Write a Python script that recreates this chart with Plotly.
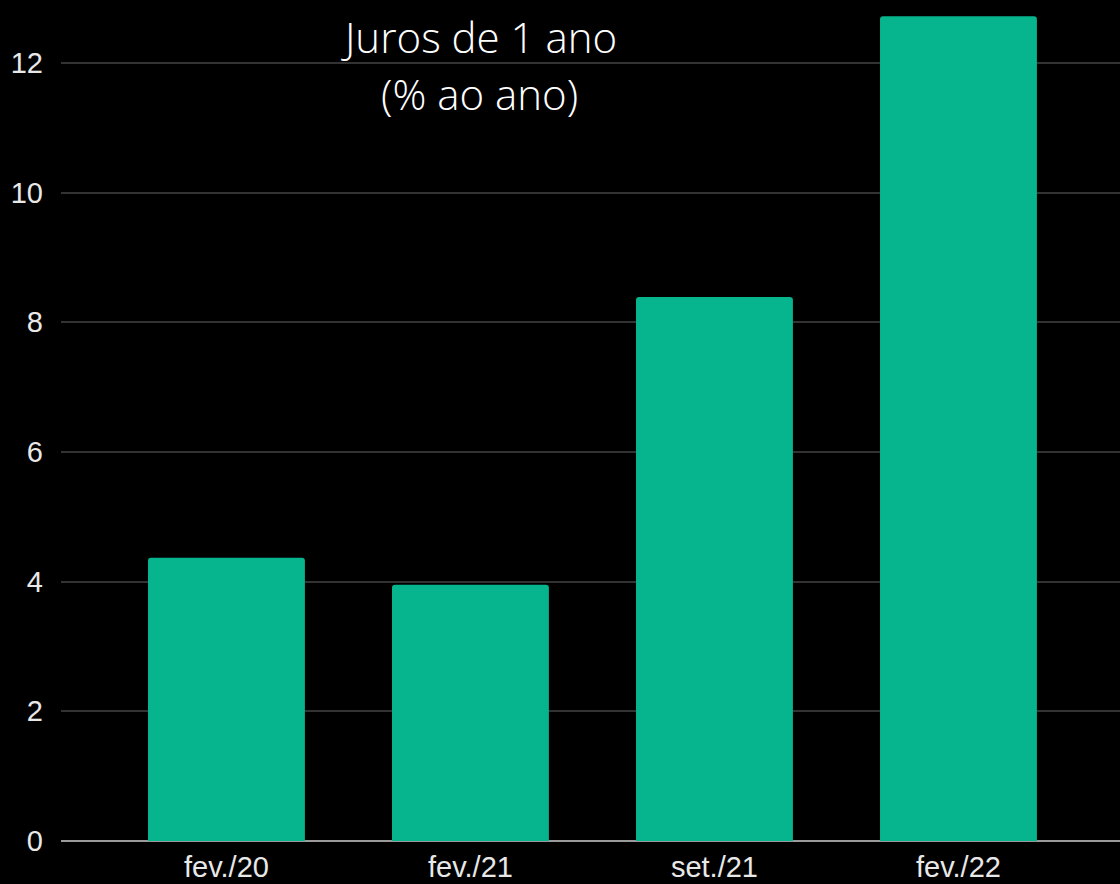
import plotly.graph_objects as go

categories = ["fev./20", "fev./21", "set./21", "fev./22"]
values = [4.37, 3.95, 8.39, 12.72]
y_ticks = [0, 2, 4, 6, 8, 10, 12]
title_lines = ["Juros de 1 ano", "(% ao ano)"]

W, H = 1120, 884
ml, mr, mt, mb = 61, 0, 0, 43
plot_h = H - mt - mb

fig = go.Figure(
    go.Bar(
        x=categories,
        y=values,
        width=0.643,
        marker=dict(color="#06B48E", line=dict(width=0), cornerradius=3),
        hoverinfo="skip",
    )
)

fig.update_layout(
    width=W,
    height=H,
    margin=dict(l=ml, r=mr, t=mt, b=mb, pad=0),
    paper_bgcolor="#000000",
    plot_bgcolor="#000000",
    showlegend=False,
    font=dict(family="Arial, Liberation Sans, sans-serif", color="#e8e8e8", size=29),
)

fig.update_xaxes(
    type="category",
    range=[-0.678, 3.662],
    showgrid=False,
    showline=False,
    zeroline=False,
    ticks="",
    ticklabelstandoff=6,
    tickfont=dict(size=29, color="#e8e8e8"),
)

fig.update_yaxes(
    range=[0, 12.97],
    tickvals=y_ticks,
    showgrid=True,
    gridcolor="#333333",
    gridwidth=1.5,
    zeroline=True,
    zerolinecolor="#9a9a9a",
    zerolinewidth=2,
    showline=False,
    ticks="",
    ticklabelstandoff=17,
    tickfont=dict(size=29, color="#e8e8e8"),
)

line_y_px = [36, 93]
for text, ypx in zip(title_lines, line_y_px):
    fig.add_annotation(
        text=text,
        xref="paper",
        yref="paper",
        x=(479 - ml) / (W - ml - mr),
        y=1 - (ypx - mt) / plot_h,
        xanchor="center",
        yanchor="middle",
        showarrow=False,
        font=dict(family="Open Sans", size=42, color="#ffffff", weight=300),
    )

fig.write_html(
    "out.html",
    config={"displayModeBar": False},
    post_script="document.body.style.margin='0';document.body.style.background='#000';",
)
